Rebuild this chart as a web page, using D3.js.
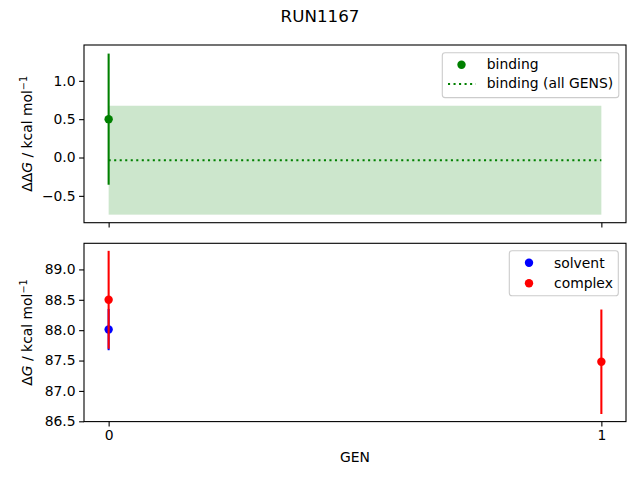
<!DOCTYPE html>
<html><head><meta charset="utf-8">
<script src="https://cdn.jsdelivr.net/npm/d3@7"></script>
<style>
body{margin:0;background:#fff;}
text{font-family:"DejaVu Sans",sans-serif;fill:#000;}
</style></head>
<body>
<svg id="c" width="640" height="480"></svg>
<script>
const gens = [0, 1];
const xTicks = [0, 1];
// top panel
const bindingGen = [0];
const bindingVal = [0.5];
const bindingErr = [0.855];
const bindingAll = -0.035;
const bindingAllErr = 0.71;
const topTicks = [-0.5, 0.0, 0.5, 1.0];
// bottom panel
const solventGen = [0];
const solventVal = [88.01];
const solventErr = [0.34];
const complexGen = [0, 1];
const complexVal = [88.5, 87.48];
const complexErr = [0.806, 0.86];
const botTicks = [86.5, 87.0, 87.5, 88.0, 88.5, 89.0];

const svg = d3.select("#c");
const L = 84, R = 626;
const x = d3.scaleLinear().domain([-0.05, 1.05]).range([L, R]);
const yT = d3.scaleLinear().domain([-0.85, 1.467]).range([222.7, 45]);
const yB = d3.scaleLinear().domain([86.495, 89.43]).range([421.6, 243.3]);

svg.append("text").attr("x", 320).attr("y", 22).attr("text-anchor", "middle")
  .style("font-size", "16.7px").text("RUN1167");

function frame(y, showX) {
  const g = svg.append("g");
  const [b, t] = y.range();
  const ya = g.append("g").attr("transform", `translate(${L},0)`)
    .call(d3.axisLeft(y).tickValues(y === yT ? topTicks : botTicks).tickSize(4.9).tickPadding(3.5).tickFormat(d3.format(".1f")));
  const xa = g.append("g").attr("transform", `translate(0,${b})`)
    .call(d3.axisBottom(x).tickValues(xTicks).tickSize(4.9).tickPadding(3.5).tickFormat(showX ? d3.format("d") : () => ""));
  [ya, xa].forEach(a => {
    a.select(".domain").remove();
    a.selectAll("text").style("font-size", "13.9px").attr("font-family", "DejaVu Sans").style("fill", "#000");
    a.selectAll("line").attr("stroke", "#000").attr("stroke-width", 1.1);
  });
  ya.selectAll("text").text(d => d < 0 ? "\u2212" + d3.format(".1f")(-d) : d3.format(".1f")(d));
  return g;
}

// top band and line (under everything)
svg.append("rect").attr("x", x(gens[0])).attr("width", x(gens[1]) - x(gens[0]))
  .attr("y", yT(bindingAll + bindingAllErr)).attr("height", yT(bindingAll - bindingAllErr) - yT(bindingAll + bindingAllErr))
  .attr("fill", "green").attr("fill-opacity", 0.2);
svg.append("line").attr("x1", x(gens[0])).attr("x2", x(gens[1])).attr("y1", yT(bindingAll)).attr("y2", yT(bindingAll))
  .attr("stroke", "green").attr("stroke-width", 2.08).attr("stroke-dasharray", "2.08,3.44");

frame(yT, false);
frame(yB, true);

function series(y, gs, vs, es, col) {
  const g = svg.append("g");
  gs.forEach((d, i) => {
    g.append("line").attr("x1", x(d)).attr("x2", x(d)).attr("y1", y(vs[i] - es[i])).attr("y2", y(vs[i] + es[i]))
      .attr("stroke", col).attr("stroke-width", 2.08);
    g.append("circle").attr("cx", x(d)).attr("cy", y(vs[i])).attr("r", 4.2).attr("fill", col);
  });
}
series(yT, bindingGen, bindingVal, bindingErr, "green");
series(yB, solventGen, solventVal, solventErr, "blue");
series(yB, complexGen, complexVal, complexErr, "red");

// frames
[yT, yB].forEach(y => {
  const [b, t] = y.range();
  svg.append("rect").attr("x", L).attr("y", t).attr("width", R - L).attr("height", b - t)
    .attr("fill", "none").attr("stroke", "#000").attr("stroke-width", 1.1);
});

// y labels
function ylab(cy) {
  return svg.append("text").attr("transform", `translate(32,${cy}) rotate(-90)`).attr("text-anchor", "middle")
    .style("font-size", "13.9px");
}
const t1 = ylab((45 + 222.7) / 2);
t1.append("tspan").text("\u0394\u0394");
t1.append("tspan").attr("font-style", "italic").text("G");
t1.append("tspan").text(" / kcal mol");
t1.append("tspan").attr("dy", -5).style("font-size", "9.7px").text("\u22121");
const t2 = ylab((243.3 + 421.6) / 2);
t2.append("tspan").text("\u0394");
t2.append("tspan").attr("font-style", "italic").text("G");
t2.append("tspan").text(" / kcal mol");
t2.append("tspan").attr("dy", -5).style("font-size", "9.7px").text("\u22121");

svg.append("text").attr("x", (L + R) / 2).attr("y", 462).attr("text-anchor", "middle").style("font-size", "13.9px").text("GEN");

// legends
function legendBox(x0, y0, w, h) {
  svg.append("rect").attr("x", x0).attr("y", y0).attr("width", w).attr("height", h).attr("rx", 2.8)
    .attr("fill", "#fff").attr("fill-opacity", 0.8).attr("stroke", "#cccccc").attr("stroke-width", 1.1);
}
legendBox(442.3, 52.8, 176.5, 44.8);
svg.append("circle").attr("cx", 461.5).attr("cy", 64.7).attr("r", 4.2).attr("fill", "green");
svg.append("text").attr("x", 486.8).attr("y", 69.4).style("font-size", "13.9px").text("binding");
svg.append("line").attr("x1", 448).attr("x2", 475.8).attr("y1", 84).attr("y2", 84)
  .attr("stroke", "green").attr("stroke-width", 2.08).attr("stroke-dasharray", "2.08,3.44");
svg.append("text").attr("x", 486.8).attr("y", 88.4).style("font-size", "13.9px").text("binding (all GENS)");

legendBox(509.3, 250.7, 109, 45);
svg.append("circle").attr("cx", 529).attr("cy", 262.7).attr("r", 4.2).attr("fill", "blue");
svg.append("text").attr("x", 554).attr("y", 267.6).style("font-size", "13.9px").text("solvent");
svg.append("circle").attr("cx", 529).attr("cy", 283.3).attr("r", 4.2).attr("fill", "red");
svg.append("text").attr("x", 554).attr("y", 288.2).style("font-size", "13.9px").text("complex");
</script>
</body></html>
